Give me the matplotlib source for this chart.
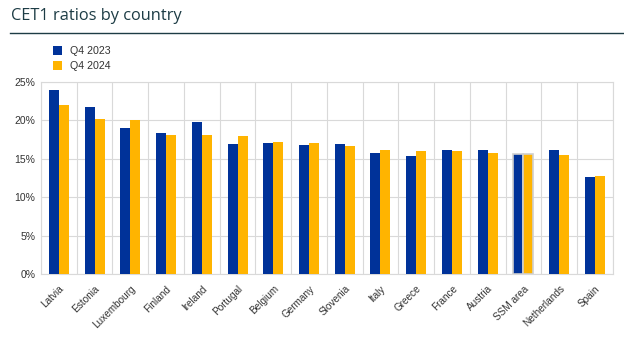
import matplotlib
matplotlib.use("Agg")
import matplotlib.pyplot as plt
from matplotlib.lines import Line2D
from matplotlib.patches import Patch
import numpy as np

countries = ["Latvia", "Estonia", "Luxembourg", "Finland", "Ireland", "Portugal",
             "Belgium", "Germany", "Slovenia", "Italy", "Greece", "France",
             "Austria", "SSM area", "Netherlands", "Spain"]
q4_2023 = [23.9, 21.7, 19.0, 18.3, 19.8, 16.9, 17.0, 16.8, 16.9, 15.8, 15.4, 16.1,
           16.2, 15.6, 16.1, 12.6]
q4_2024 = [22.0, 20.2, 20.0, 18.1, 18.1, 18.0, 17.2, 17.0, 16.6, 16.1, 16.0, 16.0,
           15.8, 15.6, 15.5, 12.8]
yticks = [0, 5, 10, 15, 20, 25]
ytick_labels = ["0%", "5%", "10%", "15%", "20%", "25%"]

BLUE = "#003299"
YELLOW = "#FFB400"
GRID = "#d9d9d9"
TXT = "#333333"

plt.rcParams['font.family'] = ['Liberation Sans', 'DejaVu Sans']

fig = plt.figure(figsize=(6.24, 3.37), dpi=100)
ax = fig.add_axes([0.0657, 0.187, 0.9163, 0.570])

x = np.arange(len(countries))
w = 0.28
for i in range(len(countries)):
    hl = countries[i] == "SSM area"
    ec = "#cfcfcf" if hl else "none"
    lw = 1.2 if hl else 0
    ax.bar(x[i] - w / 2, q4_2023[i], w, color=BLUE, edgecolor=ec, linewidth=lw, zorder=3)
    ax.bar(x[i] + w / 2, q4_2024[i], w, color=YELLOW, edgecolor=ec, linewidth=lw, zorder=3)

ax.set_xlim(-0.5, len(countries) - 0.5)
ax.set_ylim(0, 25)
ax.set_yticks(yticks)
ax.set_yticklabels(ytick_labels, fontsize=7.5, color=TXT)
ax.set_xticks(x)
ax.set_xticklabels(countries, rotation=45, ha="right", rotation_mode="anchor",
                   fontsize=7.2, color=TXT)
ax.tick_params(axis="both", length=0, pad=4)
ax.tick_params(axis="x", pad=7)

for b in np.arange(-0.5, len(countries), 1.0):
    ax.axvline(b, color=GRID, lw=0.8, zorder=1)
ax.yaxis.grid(True, color=GRID, lw=0.8, zorder=1)
ax.set_axisbelow(True)
for s in ax.spines.values():
    s.set_color(GRID)
    s.set_linewidth(0.8)

fig.text(0.018, 0.953, "CET1 ratios by country", fontsize=11.8, color="#1d3c45",
         ha="left", va="center", family=["Open Sans", "DejaVu Sans"])
fig.add_artist(Line2D([0.016, 1.0], [0.902, 0.902], color="#1d3c45", lw=1.0,
                      transform=fig.transFigure))

handles = [Patch(facecolor=BLUE, edgecolor="none", label="Q4 2023"),
           Patch(facecolor=YELLOW, edgecolor="none", label="Q4 2024")]
fig.legend(handles=handles, loc="upper left", bbox_to_anchor=(0.076, 0.878),
           frameon=False, fontsize=7.7, handlelength=0.85, handleheight=0.85,
           handletextpad=0.8, labelspacing=0.45, borderpad=0, labelcolor=TXT)

fig.savefig("out.png", dpi=100, facecolor="white")
